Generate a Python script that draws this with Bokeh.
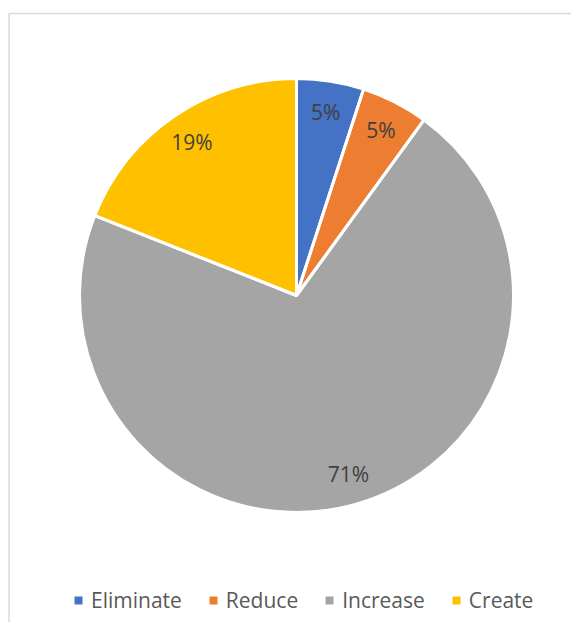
import numpy as np
from bokeh.plotting import figure
from bokeh.models import ColumnDataSource, Range1d, Legend, LegendItem
from bokeh.core.properties import value
from bokeh.embed import file_html
from bokeh.resources import INLINE

categories = ["Eliminate", "Reduce", "Increase", "Create"]
values = [5, 5, 71, 19]
colors = ["#4472C4", "#ED7D31", "#A5A5A5", "#FFC000"]
pct_labels = ["5%", "5%", "71%", "19%"]

vals = np.array(values, dtype=float)
frac = vals / vals.sum()
cum = np.concatenate([[0.0], np.cumsum(frac)])
start = np.pi / 2 - 2 * np.pi * cum[:-1]
end = np.pi / 2 - 2 * np.pi * cum[1:]
mid = (start + end) / 2

cx, cy, R = 296, -295, 217
lr = 186

src = ColumnDataSource(dict(
    cat=categories, start=start, end=end, color=colors,
    lx=cx + lr * np.cos(mid), ly=cy + lr * np.sin(mid), lab=pct_labels,
))

W, H = 571, 622
p = figure(width=W, height=H, output_backend="svg", toolbar_location=None,
           x_range=Range1d(0, W), y_range=Range1d(-H, 0),
           x_axis_type=None, y_axis_type=None, min_border=0)
p.outline_line_color = None
p.grid.visible = False
p.background_fill_color = "white"
p.border_fill_color = "white"

# chart border (left and top)
p.line(x=[8.5, 8.5], y=[-13, -640], line_color="#D9D9D9", line_width=1.5)
p.line(x=[8.5, 600], y=[-13, -13], line_color="#D9D9D9", line_width=1.5)

wr = p.wedge(x=cx, y=cy, radius=R, start_angle="start", end_angle="end",
             direction="clock", fill_color="color", line_color=None, source=src)
p.wedge(x=cx, y=cy, radius=R, start_angle="start", end_angle="end",
        direction="clock", fill_color=None, line_color="white", line_width=3, source=src)

p.text(x="lx", y="ly", text="lab", source=src, text_align="center",
       text_baseline="middle", text_font=value("Open Sans"),
       text_font_size="21px", text_color="#404040")

items = [LegendItem(label=c, renderers=[wr], index=i) for i, c in enumerate(categories)]
legend = Legend(items=items, orientation="horizontal", location=(73, 8),
                label_text_font="Open Sans", label_text_font_size="21px",
                label_text_color="#595959", glyph_width=10, glyph_height=10,
                label_standoff=8, spacing=26, padding=0, margin=0,
                border_line_color=None, background_fill_alpha=0)
p.add_layout(legend, "center")

open("out.html", "w").write(file_html(p, INLINE))
